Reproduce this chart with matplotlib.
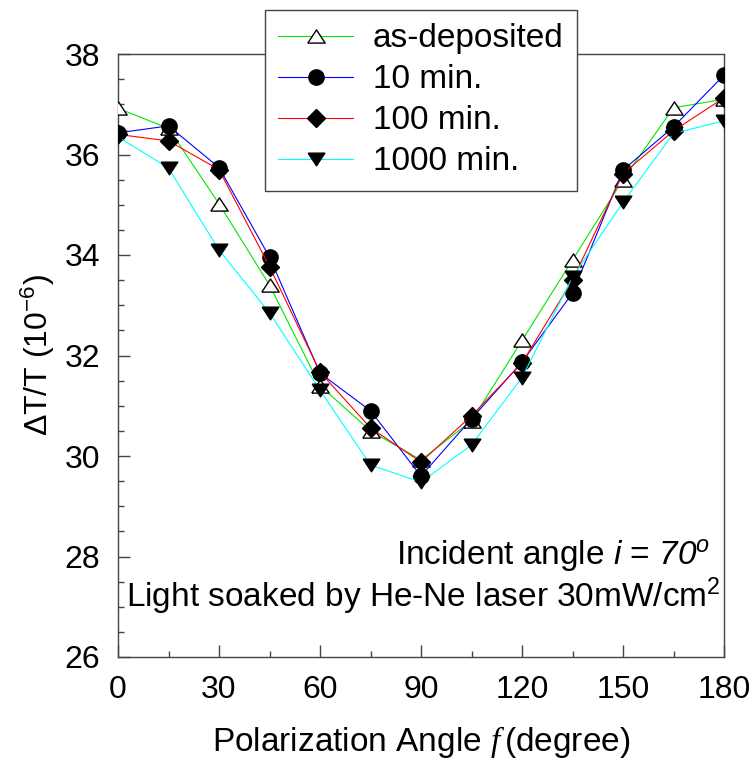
import matplotlib
matplotlib.use("Agg")
import matplotlib.pyplot as plt

plt.rcParams['font.family'] = ['Liberation Sans', 'DejaVu Sans']
plt.rcParams['mathtext.fontset'] = 'custom'
plt.rcParams['mathtext.rm'] = 'Liberation Sans'
plt.rcParams['mathtext.it'] = 'Liberation Sans:italic'
plt.rcParams['mathtext.bf'] = 'Liberation Sans:italic'
plt.rcParams['mathtext.sf'] = 'Liberation Serif:italic'

angles = [0, 15, 30, 45, 60, 75, 90, 105, 120, 135, 150, 165, 180]
as_deposited = [36.92, 36.52, 35.02, 33.40, 31.40, 30.50, 29.92, 30.70, 32.30, 33.90, 35.50, 36.93, 37.10]
min10 = [36.43, 36.57, 35.74, 33.96, 31.65, 30.90, 29.60, 30.74, 31.87, 33.24, 35.69, 36.55, 37.58]
min100 = [36.40, 36.27, 35.70, 33.77, 31.67, 30.56, 29.88, 30.80, 31.85, 33.50, 35.62, 36.47, 37.13]
min1000 = [36.35, 35.73, 34.10, 32.85, 31.31, 29.82, 29.48, 30.22, 31.56, 33.56, 35.05, 36.42, 36.67]

labels = ['as-deposited', '10 min.', '100 min.', '1000 min.']
colors = ['#00e800', '#0000ff', '#ff0000', '#00ffff']

tri_up = [(-1, -0.76), (1, -0.76), (0, 0.76), (-1, -0.76)]
tri_down = [(-1, 0.76), (1, 0.76), (0, -0.76), (-1, 0.76)]

fig = plt.figure(figsize=(7.51, 7.63), dpi=100)
ax = fig.add_axes([118/751, 1-657/763, 606/751, 603/763])

lw = 0.8
ax.plot(angles, as_deposited, color=colors[0], lw=lw, marker=tri_up, ms=12.5,
        mfc='white', mec='black', mew=1.0, label=labels[0], zorder=3)
ax.plot(angles, min10, color=colors[1], lw=lw, marker='o', ms=11,
        mfc='black', mec='black', label=labels[1], zorder=3)
ax.plot(angles, min100, color=colors[2], lw=lw, marker='D', ms=9.2,
        mfc='black', mec='black', label=labels[2], zorder=3)
ax.plot(angles, min1000, color=colors[3], lw=lw, marker=tri_down, ms=12,
        mfc='black', mec='black', label=labels[3], zorder=3)

ax.set_xlim(0, 180)
ax.set_ylim(26, 38)
ax.set_xticks(range(0, 181, 30))
ax.set_xticks(range(0, 181, 15), minor=True)
ax.set_yticks(range(26, 39, 2))
ax.set_yticks([26 + 0.5*k for k in range(25)], minor=True)
ax.tick_params(which='both', direction='in', top=False, right=False,
               labelsize=23, color='#444444', width=1.0)
ax.tick_params(which='major', length=8.5, pad=13)
ax.tick_params(which='minor', length=4.3)
for s in ax.spines.values():
    s.set_color('#444444')
    s.set_linewidth(1.0)

ax.set_xlabel(r'Polarization Angle $\mathsf{f}\,$(degree)', fontsize=24, labelpad=14)
ax.set_ylabel(r'ΔT/T (10$^{-6}$)', fontsize=23, labelpad=5)

ax.text(0.977, 0.169, r'Incident angle $i$ = $\mathbf{70}^{\mathbf{o}}$', transform=ax.transAxes,
        ha='right', va='center', fontsize=24)
ax.text(0.995, 0.10, r'Light soaked by He-Ne laser 30mW/cm$^2$', transform=ax.transAxes,
        ha='right', va='center', fontsize=24)

leg = ax.legend(loc='upper center', bbox_to_anchor=(0.5, 1.073), fontsize=24,
                frameon=True, fancybox=False, shadow=False, framealpha=1,
                edgecolor='#444444', borderaxespad=0, handlelength=2.25,
                handletextpad=0.6, labelspacing=0.3, borderpad=0.4)
leg.get_frame().set_linewidth(1.0)
leg.set_zorder(5)

fig.savefig('out.png', dpi=100)
